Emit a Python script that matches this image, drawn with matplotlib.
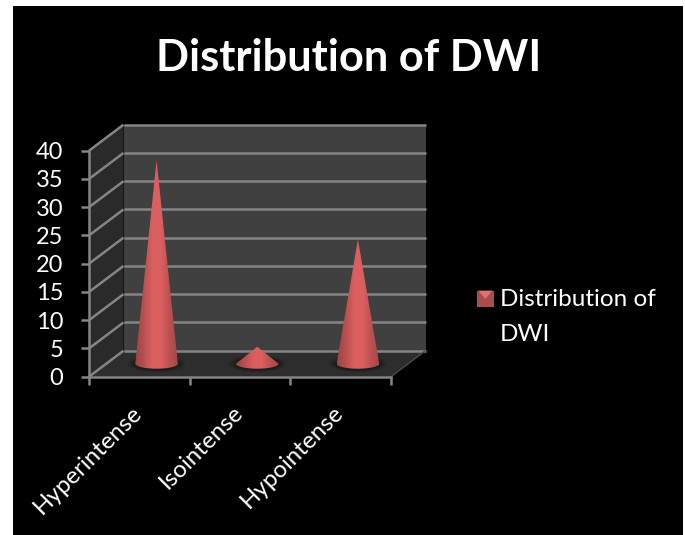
#!/usr/bin/env python3
"""
Cone chart of the DWI signal distribution, drawn with an oblique 3D box.
"""

import numpy as np
import matplotlib
matplotlib.use('Agg')
import matplotlib.pyplot as plt
from matplotlib.colors import LinearSegmentedColormap
from matplotlib.legend_handler import HandlerBase
from matplotlib.patches import Ellipse, Patch, Polygon, Rectangle
from matplotlib.transforms import IdentityTransform, ScaledTranslation

categories = ['Hyperintense', 'Isointense', 'Hypointense']
values = [36, 3, 22]
series_name = 'Distribution of\nDWI'
chart_title = 'Distribution of DWI'
y_ticks = [0, 5, 10, 15, 20, 25, 30, 35, 40]

W, H = 685, 535
DX, DY = 34.5, 26      # depth of the box, pixels
GRID = '#858585'

plt.rcParams['font.family'] = ['Lato', 'DejaVu Sans']

fig = plt.figure(figsize=(W / 100, H / 100), dpi=100, facecolor='white')
fig.add_artist(Rectangle((13 / W, 0), 670 / W, 529 / H, transform=fig.transFigure,
                         facecolor='black', edgecolor='none', zorder=-1))

ax = fig.add_axes([89 / W, (H - 376.7) / H, 302 / W, 226 / H])
ax.patch.set_visible(False)
ax.set_xlim(0, len(categories))
ax.set_ylim(0, 40)


def project(x, y, d=0.0):
    # data position at depth d (0 = front, 1 = back) to pixels
    px, py = ax.transData.transform((x, y))
    return px + DX * d, py + DY * d


def add_poly(points, color, z=1):
    ax.add_patch(Polygon(points, closed=True, transform=IdentityTransform(),
                         facecolor=color, edgecolor='none', zorder=z, clip_on=False))


def add_line(p0, p1, lw=1.8, color=GRID, z=1.5):
    ax.plot([p0[0], p1[0]], [p0[1], p1[1]], transform=IdentityTransform(),
            color=color, lw=lw, zorder=z, clip_on=False, solid_capstyle='butt')


x_max = len(categories)

# walls and floor
add_poly([project(0, 0, 1), project(x_max, 0, 1), project(x_max, 40, 1), project(0, 40, 1)], '#404040')
add_poly([project(0, 0, 0), project(0, 0, 1), project(0, 40, 1), project(0, 40, 0)], '#2a2a2a')
add_poly([project(0, 0, 0), project(x_max, 0, 0), project(x_max, 0, 1), project(0, 0, 1)], '#2d2d2d')

# gridlines run along the side wall and across the back wall
for t in y_ticks:
    add_line(project(0, t, 0), project(0, t, 1))
    add_line(project(0, t, 1), project(x_max, t, 1))
add_line(project(x_max, 0, 0), project(x_max, 0, 1), lw=1.0, color='#4a4a4a')

# cones stand in the middle of the box depth
shade = LinearSegmentedColormap.from_list(
    'cone', ['#9c4444', '#b94f4f', '#da5f5f', '#dc6060', '#bb5151', '#a44848'])
gradient = np.linspace(0, 1, 256).reshape(1, -1)
half_w = 21.3
semi_minor = 5.0
angles = np.linspace(np.pi, 2 * np.pi, 60)

for i, v in enumerate(values):
    bx, by = project(i + 0.5, 0, 0.5)
    tx, ty = project(i + 0.5, v, 0.5)

    # soft shadow under the base
    for grow, alpha in [(1.35, 0.2), (1.22, 0.25), (1.1, 0.35)]:
        ax.add_patch(Ellipse((bx, by), 2 * half_w * grow, 2 * semi_minor * grow * 1.25,
                             transform=IdentityTransform(), facecolor='#141414',
                             edgecolor='none', alpha=alpha, zorder=2, clip_on=False))

    outline = [(tx, ty)]
    outline += [(bx + half_w * np.cos(a), by + semi_minor * np.sin(a)) for a in angles]
    clip = Polygon(outline, closed=True, transform=IdentityTransform())
    im = ax.imshow(gradient, cmap=shade, vmin=0, vmax=1, aspect='auto', zorder=3,
                   extent=(bx - half_w, bx + half_w, by - semi_minor, ty),
                   transform=IdentityTransform())
    im.set_clip_box(None)
    im.set_clip_path(clip)

ax.set_xlim(0, x_max)
ax.set_ylim(0, 40)

# axes: value ticks on the left, category ticks between the cones
for side in ['top', 'right']:
    ax.spines[side].set_visible(False)
for side in ['left', 'bottom']:
    ax.spines[side].set_color(GRID)
    ax.spines[side].set_linewidth(1.8)
ax.set_yticks(y_ticks)
ax.set_yticklabels([str(t) for t in y_ticks])
ax.tick_params(axis='y', colors=GRID, labelcolor='white', labelsize=17, length=6, width=1.8, pad=12.5)
ax.set_xticks(range(x_max + 1))
ax.set_xticklabels([])
ax.tick_params(axis='x', which='major', color=GRID, length=6, width=1.8)
ax.set_xticks(np.arange(x_max) + 0.5, minor=True)
ax.set_xticklabels(categories, minor=True, rotation=45, ha='right', rotation_mode='anchor',
                   color='white', fontsize=17.3)
ax.tick_params(axis='x', which='minor', length=0, pad=18)
shift_left = ScaledTranslation(-8 / 100, 0, fig.dpi_scale_trans)
for label in ax.get_xticklabels(minor=True):
    label.set_transform(label.get_transform() + shift_left)

fig.text(349 / W, (H - 58) / H, chart_title, color='white', fontsize=31.2, fontweight='bold',
         ha='center', va='center')


class BevelHandler(HandlerBase):
    # square swatch with a lighter top bevel, level with the first text line
    def create_artists(self, legend, orig, xdescent, ydescent, width, height, fontsize, trans):
        x0, y0 = -xdescent, -ydescent + 13
        size = 12
        body = Rectangle((x0, y0), size, size, facecolor=orig.get_facecolor(), edgecolor='none', transform=trans)
        bevel = Polygon([(x0 + 1, y0 + size), (x0 + size - 1, y0 + size), (x0 + size / 2, y0 + size * 0.5)],
                        closed=True, facecolor='#e27272', edgecolor='none', transform=trans)
        return [body, bevel]


handle = Patch(facecolor='#a84c4c', label=series_name)
leg = fig.legend(handles=[handle], labels=[series_name], handler_map={Patch: BevelHandler()},
                 loc='upper left', bbox_to_anchor=(477 / W, (H - 289) / H), frameon=False,
                 prop={'size': 17.5}, handlelength=0.7, handleheight=0.7, handletextpad=0.25,
                 borderpad=0, borderaxespad=0, labelcolor='white')
leg.get_texts()[0].set_linespacing(1.8)

fig.savefig('out.png', dpi=100, facecolor='white')
